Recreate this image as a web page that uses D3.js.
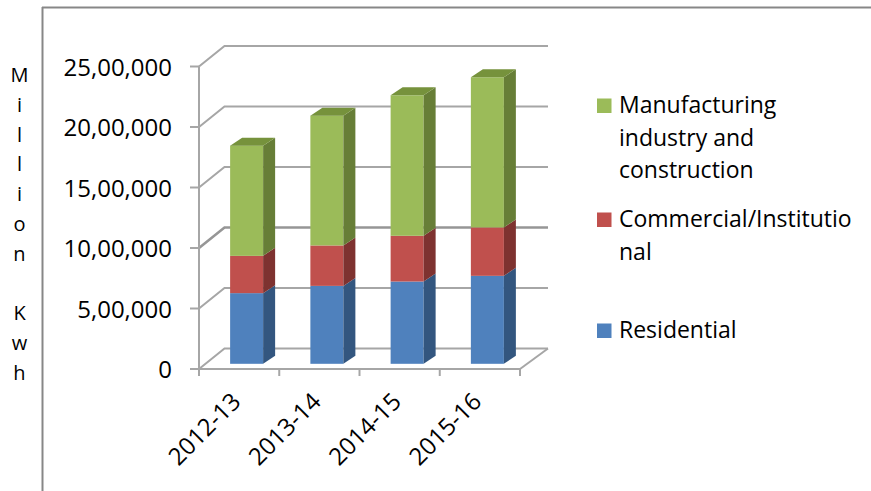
<!DOCTYPE html>
<html>
<head>
<meta charset="utf-8">
<script src="https://cdn.jsdelivr.net/npm/d3@7"></script>
<style>
  body { margin: 0; background: #fff; }
  svg text { font-family: "Open Sans", Lato, sans-serif; fill: #000; font-variant-ligatures: none; }
</style>
</head>
<body>
<svg id="chart" width="871" height="491"></svg>
<script>
// Electricity consumption by sector (Million Kwh)
const years = ["2012-13", "2013-14", "2014-15", "2015-16"];
const residential = [584000, 644000, 680000, 727000];
const commercial = [308000, 334000, 378000, 400000];
const manufacturing = [911000, 1073000, 1161000, 1241000];
const yTicks = [0, 500000, 1000000, 1500000, 2000000, 2500000];
const seriesKeys = ["residential", "commercial", "manufacturing"];
const legendLabels = [
  ["Manufacturing", "industry and", "construction"],
  ["Commercial/Institutio", "nal"],
  ["Residential"]
];
const yTitle = ["M", "i", "l", "l", "i", "o", "n", "", "K", "w", "h"];

const rows = years.map((yr, i) => ({
  year: yr,
  residential: residential[i],
  commercial: commercial[i],
  manufacturing: manufacturing[i]
}));

const colors = {
  residential:   { front: "#4f81bd", side: "#33567f", top: "#3f6a9c" },
  commercial:    { front: "#c0504d", side: "#7e3230", top: "#a13f3c" },
  manufacturing: { front: "#9bbb59", side: "#677e37", top: "#76923c" }
};

const svg = d3.select("#chart");

// Frame lines of the chart area
svg.append("line").attr("x1", 42.5).attr("x2", 42.5).attr("y1", 7).attr("y2", 491)
  .attr("stroke", "#878787").attr("stroke-width", 2);
svg.append("line").attr("x1", 42).attr("x2", 871).attr("y1", 7.5).attr("y2", 7.5)
  .attr("stroke", "#878787").attr("stroke-width", 2);

// Projection: front plane plus a depth vector for the walls
const wallDX = 25.5, wallDY = -20.5;
const backRight = 548;

const x = d3.scaleBand().domain(years).range([199, 520]);
const y = d3.scaleLinear().domain([0, 2500000]).range([369, 66.5]);

const gridColor = "#a6a6a6";

// Side wall + back wall gridlines
const grid = svg.append("g");
yTicks.forEach(v => {
  const yf = y(v);
  grid.append("polyline")
    .attr("points", [[199, yf], [199 + wallDX, yf + wallDY], [backRight, yf + wallDY]].map(p => p.join(",")).join(" "))
    .attr("fill", "none")
    .attr("stroke", v === 1000000 ? "#969696" : gridColor)
    .attr("stroke-width", v === 1000000 ? 2.6 : 2);
});
// floor right edge
grid.append("line")
  .attr("x1", 520).attr("y1", y(0)).attr("x2", backRight).attr("y2", y(0) + wallDY)
  .attr("stroke", gridColor).attr("stroke-width", 2);

// Front value axis
const yAxisG = svg.append("g");
yAxisG.append("line").attr("x1", 199).attr("x2", 199).attr("y1", y(2500000)).attr("y2", y(0))
  .attr("stroke", gridColor).attr("stroke-width", 2);
const indian = v => {
  const s = String(Math.round(v));
  if (s.length <= 3) return s;
  const last3 = s.slice(-3);
  const rest = s.slice(0, -3).replace(/\B(?=(\d{2})+(?!\d))/g, ",");
  return rest + "," + last3;
};
yTicks.forEach(v => {
  yAxisG.append("line").attr("x1", 190).attr("x2", 199).attr("y1", y(v)).attr("y2", y(v))
    .attr("stroke", gridColor).attr("stroke-width", 2);
  yAxisG.append("text")
    .attr("x", 172).attr("y", y(v) + 9)
    .attr("text-anchor", "end")
    .attr("font-size", 24)
    .text(indian(v));
});

// Front category axis
const xAxisG = svg.append("g");
xAxisG.append("line").attr("x1", 198).attr("x2", 521).attr("y1", y(0)).attr("y2", y(0))
  .attr("stroke", gridColor).attr("stroke-width", 2);
const tickXs = years.map(d => x(d)).concat([x.range()[1]]);
tickXs.forEach(tx => {
  xAxisG.append("line").attr("x1", tx).attr("x2", tx).attr("y1", y(0)).attr("y2", y(0) + 7)
    .attr("stroke", gridColor).attr("stroke-width", 2);
});
years.forEach(yr => {
  const cx = x(yr) + x.bandwidth() / 2;
  xAxisG.append("text")
    .attr("transform", `translate(${cx + 3},${403}) rotate(-45)`)
    .attr("text-anchor", "end")
    .attr("font-size", 24)
    .text(yr);
});

// Stacked 3D columns
const stack = d3.stack().keys(seriesKeys)(rows);
const barW = 33, barOffX = 7.5, barOffY = -5.2, sideDX = 12, sideDY = -8;
const bars = svg.append("g");
years.forEach((yr, i) => {
  const xl = x(yr) + x.bandwidth() / 2 - barW / 2 + barOffX;
  const xr = xl + barW;
  stack.forEach((layer, li) => {
    const key = layer.key;
    const [v0, v1] = layer[i];
    const yb = y(v0) + barOffY;
    const yt = y(v1) + barOffY;
    const c = colors[key];
    bars.append("rect")
      .attr("x", xl).attr("y", yt).attr("width", barW).attr("height", yb - yt)
      .attr("fill", c.front);
    bars.append("polygon")
      .attr("points", [[xr, yb], [xr + sideDX, yb + sideDY], [xr + sideDX, yt + sideDY], [xr, yt]].map(p => p.join(",")).join(" "))
      .attr("fill", c.side);
    if (li === stack.length - 1) {
      bars.append("polygon")
        .attr("points", [[xl, yt], [xl + sideDX, yt + sideDY], [xr + sideDX, yt + sideDY], [xr, yt]].map(p => p.join(",")).join(" "))
        .attr("fill", c.top);
    }
  });
});

// Legend
const legendKeys = ["manufacturing", "commercial", "residential"];
const legendTops = [113, 227, 338];
const legend = svg.append("g");
legendKeys.forEach((k, i) => {
  const base = legendTops[i];
  legend.append("rect")
    .attr("x", 597).attr("y", base - 14.5).attr("width", 14.5).attr("height", 14.5)
    .attr("fill", colors[k].front);
  legendLabels[i].forEach((line, j) => {
    legend.append("text")
      .attr("x", 619).attr("y", base + j * 32.5)
      .attr("font-size", 23)
      .text(line);
  });
});

// Vertical axis title, one letter per line
const title = svg.append("g");
yTitle.forEach((ch, i) => {
  title.append("text")
    .attr("x", 19.5).attr("y", 82 + i * 29.8)
    .attr("text-anchor", "middle")
    .attr("font-size", 20)
    .text(ch);
});
</script>
</body>
</html>
